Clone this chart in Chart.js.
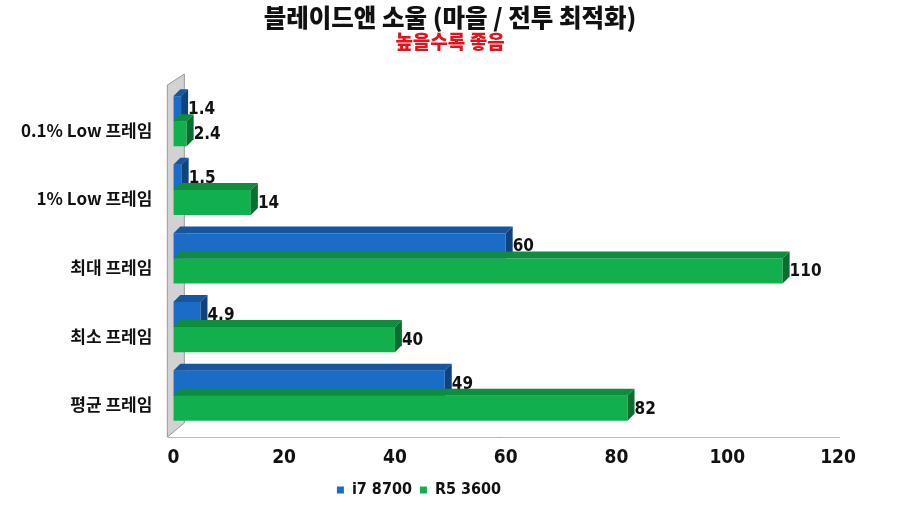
<!DOCTYPE html>
<html>
<head>
<meta charset="utf-8">
<script src="https://cdn.jsdelivr.net/npm/chart.js@4.4.1/dist/chart.umd.min.js"></script>
<style>
  html, body { margin: 0; padding: 0; background: #fff; }
</style>
</head>
<body>
<canvas id="chart" width="900" height="508"></canvas>
<script>
const titleText = "블레이드앤 소울 (마을 / 전투 최적화)";
const subtitleText = "높을수록 좋음";
const categories = ["0.1% Low 프레임", "1% Low 프레임", "최대 프레임", "최소 프레임", "평균 프레임"];
const i7Values = [1.4, 1.5, 60, 4.9, 49];
const r5Values = [2.4, 14, 110, 40, 82];
const xTicks = [0, 20, 40, 60, 80, 100, 120];

const ctx = document.getElementById("chart");
const narrow = "'Liberation Sans Narrow', 'DejaVu Sans Condensed', 'Roboto', sans-serif";
const kr = "'Noto Sans CJK KR', sans-serif";

// darker shade for 3D faces
function shade(hex, f) {
  const n = parseInt(hex.slice(1), 16);
  const r = Math.round(((n >> 16) & 255) * f);
  const g = Math.round(((n >> 8) & 255) * f);
  const b = Math.round((n & 255) * f);
  return "rgb(" + r + "," + g + "," + b + ")";
}

const depth = 7;

// titles centred on the whole canvas
const titlePlugin = {
  id: "titles",
  afterDraw(chart) {
    const c = chart.ctx;
    c.save();
    c.textAlign = "center";
    c.textBaseline = "middle";
    c.fillStyle = "#111";
    c.font = "900 24.5px " + kr;
    c.fillText(titleText, chart.width / 2, 18);
    c.fillStyle = "#e8101a";
    c.font = "900 19px " + kr;
    c.fillText(subtitleText, chart.width / 2, 42);
    c.restore();
  },
};

const wallPlugin = {
  id: "wall",
  beforeDatasetsDraw(chart) {
    const a = chart.chartArea;
    const c = chart.ctx;
    c.save();
    // back wall strip at left
    c.fillStyle = "#d2d2d2";
    c.strokeStyle = "#999";
    c.lineWidth = 1;
    c.beginPath();
    c.moveTo(a.left - 6, a.bottom + 7);
    c.lineTo(a.left - 6, a.top - 2);
    c.lineTo(a.left + depth + 4, a.top - depth - 6);
    c.lineTo(a.left + depth + 4, a.bottom - depth);
    c.closePath();
    c.fill();
    c.stroke();
    // floor / axis line
    c.strokeStyle = "#b8b8b8";
    c.beginPath();
    c.moveTo(a.left - 6, a.bottom + 7.5);
    c.lineTo(a.right + 2, a.bottom + 7.5);
    c.stroke();
    c.restore();
  },
};

const bar3dPlugin = {
  id: "bar3d",
  afterDatasetsDraw(chart) {
    const c = chart.ctx;
    c.save();
    chart.data.datasets.forEach((ds, di) => {
      const meta = chart.getDatasetMeta(di);
      meta.data.forEach((bar, i) => {
        const p = bar.getProps(["x", "y", "base", "height"], true);
        const top = p.y - p.height / 2;
        const bot = p.y + p.height / 2;
        // top face
        c.fillStyle = shade(ds.backgroundColor, 0.8);
        c.beginPath();
        c.moveTo(p.base, top);
        c.lineTo(p.base + depth, top - depth);
        c.lineTo(p.x + depth, top - depth);
        c.lineTo(p.x, top);
        c.closePath();
        c.fill();
        // side face
        c.fillStyle = shade(ds.backgroundColor, 0.62);
        c.beginPath();
        c.moveTo(p.x, top);
        c.lineTo(p.x + depth, top - depth);
        c.lineTo(p.x + depth, bot - depth);
        c.lineTo(p.x, bot);
        c.closePath();
        c.fill();
        // value label
        c.fillStyle = "#111";
        c.font = "bold 17px " + narrow;
        c.textAlign = "left";
        c.textBaseline = "middle";
        c.fillText(String(ds.data[i]), p.x + depth, p.y + 1);
      });
    });
    c.restore();
  },
};

new Chart(ctx, {
  type: "bar",
  data: {
    labels: categories,
    datasets: [
      {
        label: "i7 8700",
        data: i7Values,
        backgroundColor: "#1a6cc6",
        borderWidth: 0,
      },
      {
        label: "R5 3600",
        data: r5Values,
        backgroundColor: "#12b04c",
        borderWidth: 0,
      },
    ],
  },
  options: {
    indexAxis: "y",
    responsive: false,
    animation: false,
    layout: {
      autoPadding: false,
      padding: { left: 0, right: 62, top: 87, bottom: 0 },
    },
    scales: {
      x: {
        min: 0,
        max: 120,
        afterBuildTicks: (axis) => {
          axis.ticks = xTicks.map((v) => ({ value: v }));
        },
        afterFit: (axis) => {
          axis.height = 44;
        },
        grid: { display: false, drawTicks: false },
        border: { display: false },
        ticks: {
          color: "#111",
          maxRotation: 0,
          font: { family: narrow, size: 19, weight: "bold" },
          padding: 17,
        },
      },
      y: {
        grid: { display: false, drawTicks: false },
        border: { display: false },
        ticks: {
          color: "#111",
          labelOffset: 9,
          font: { family: kr, size: 17, weight: "bold" },
          padding: 21,
        },
      },
    },
    datasets: {
      bar: { categoryPercentage: 0.73, barPercentage: 1.0 },
    },
    plugins: {
      title: { display: false },
      legend: {
        position: "bottom",
        labels: {
          color: "#111",
          boxWidth: 7,
          boxHeight: 7,
          padding: 8,
          font: { family: narrow, size: 16, weight: "bold" },
        },
      },
      tooltip: { enabled: false },
    },
  },
  plugins: [wallPlugin, bar3dPlugin, titlePlugin],
});
</script>
</body>
</html>
